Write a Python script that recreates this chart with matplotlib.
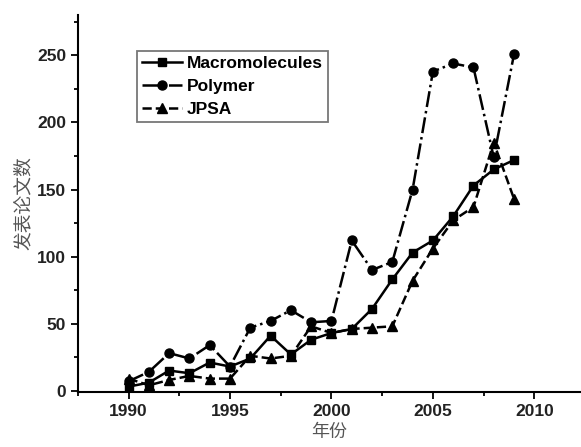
import matplotlib

matplotlib.use("Agg")
import matplotlib.pyplot as plt
from matplotlib.ticker import MultipleLocator

plt.rcParams["font.family"] = ["Liberation Sans", "Noto Sans CJK SC", "DejaVu Sans"]

years = list(range(1990, 2010))
macro = [3, 6, 15, 13, 21, 18, 24, 41, 27, 38, 43, 46, 61, 83, 103, 112, 130, 153, 165, 172]
polymer = [7, 14, 28, 24, 34, 18, 47, 52, 60, 51, 52, 112, 90, 96, 150, 238, 244, 241, 174, 251]
jpsa = [9, 4, 8, 11, 9, 9, 26, 24, 26, 48, 43, 46, 47, 48, 82, 106, 127, 137, 185, 143]

fig = plt.figure(figsize=(5.81, 4.47), dpi=100)
ax = fig.add_axes([0.134, 0.123, 0.866, 0.843])

ax.plot(years, macro, "-", marker="s", color="black", lw=1.8, ms=5.5, label="Macromolecules")
ax.plot(years, polymer, "-.", marker="o", color="black", lw=1.8, ms=6.5, label="Polymer")
ax.plot(years, jpsa, "--", marker="^", color="black", lw=1.8, ms=6.5, label="JPSA")

ax.set_xlim(1987.5, 2012.3)
ax.set_ylim(-1, 280)
ax.xaxis.set_major_locator(MultipleLocator(5))
ax.xaxis.set_minor_locator(MultipleLocator(2.5))
ax.yaxis.set_major_locator(MultipleLocator(50))
ax.yaxis.set_minor_locator(MultipleLocator(25))
ax.spines["top"].set_visible(False)
ax.spines["right"].set_visible(False)
for s in ("left", "bottom"):
    ax.spines[s].set_linewidth(1.5)
ax.tick_params(which="both", direction="out", width=1.3)
ax.tick_params(which="major", length=5, labelsize=12.5)
ax.tick_params(which="minor", length=3)
for t in ax.get_xticklabels() + ax.get_yticklabels():
    t.set_fontweight("bold")
    t.set_color("#222222")

ax.set_xlabel("年份", fontsize=13, color="#555555", labelpad=3, family=["Noto Sans CJK SC"])
ax.set_ylabel("发表论文数", fontsize=13.5, color="#555555", labelpad=2, family=["Noto Sans CJK SC"])

leg = ax.legend(loc="upper left", bbox_to_anchor=(0.117, 0.905), borderaxespad=0,
                fancybox=False, edgecolor="#555555", handlelength=2.3, borderpad=0.3,
                labelspacing=0.45, handletextpad=0.3, prop={"weight": "bold", "size": 12.5})
leg.get_frame().set_linewidth(1.3)

fig.savefig("out.png", dpi=100)
